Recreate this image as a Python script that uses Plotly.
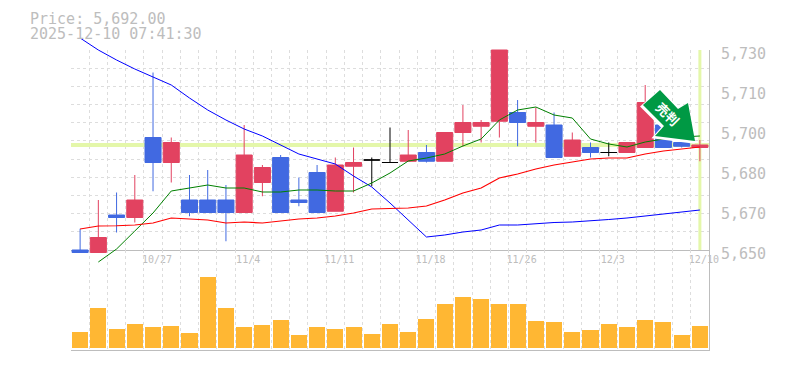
import plotly.graph_objects as go

price_now = 5692.0
stamp = "2025-12-10 07:41:30"
idx = list(range(35))
opens  = [5650,5649,5664,5663,5695,5685,5670,5670,5670,5665,5677,5687,5670,5681,5665.5,5683.5,5686,5685,5685.5,5689,5685.5,5697,5699.5,5701.5,5705,5699.5,5700,5687.5,5691,5689,5689,5691,5700,5693,5691]
closes = [5649,5655,5663,5670,5685,5693,5665,5665,5665,5688,5683,5665,5669,5665,5684,5685,5686,5685,5688,5685.5,5697,5701,5701,5730,5701,5701,5687,5694,5689,5689,5693,5709,5691,5691.5,5692]
highs  = [5658.5,5670,5673,5680,5721,5695,5680,5682,5676,5700,5684,5688,5679,5684,5687,5691,5687,5699,5698,5692,5697,5708,5702,5730,5710,5707,5705,5697,5693,5693,5693,5716,5700,5693,5694]
lows   = [5649,5649,5657,5661,5673.5,5677,5663.5,5665,5653.5,5665,5671.5,5665,5667.5,5665,5665.5,5673,5675.5,5685,5685.5,5685,5685.5,5691.5,5693,5695,5691.5,5693,5687,5687.5,5687,5687.5,5689,5691,5691,5691,5685.5]
ma_blue = [5734.8,5730,5726,5722.4,5719.2,5716,5710.8,5706,5702,5698.4,5695.6,5692,5688.4,5686.4,5684.4,5679.6,5675.2,5668.8,5662,5655.2,5656,5657.2,5658,5660,5660,5660.6,5661,5661.2,5661.6,5662.2,5662.8,5663.6,5664.4,5665.2,5666]
ma_red = [5658.4,5659.6,5659.7,5660,5660.8,5662.8,5662.4,5662,5660.8,5661.2,5660.8,5661.6,5662.4,5662.8,5663.6,5664.8,5666.4,5666.6,5666.8,5667.6,5670,5672.8,5674.8,5678.8,5680.4,5682.4,5684,5685.2,5686.4,5686.8,5686.8,5688.4,5689.6,5690.4,5691.2]
ma_green = [None,5645.2,5650.4,5657.6,5664.8,5673.6,5674.8,5676,5674.8,5674.8,5673.2,5673.2,5674,5674,5673.6,5673.6,5676.8,5680.8,5685.6,5686.8,5688.4,5691.6,5694.4,5702,5706,5707.2,5704,5702.8,5694.4,5692.4,5691.2,5693.2,5694.4,5695.2,5695.6]
volumes = [16,40,19,24,21,22,15,71,40,21,23,28,13,21,19,21,14,24,16,29,44,51,49,44,44,27,26,16,18,24,21,28,26,13,22]
x_tick_pos = [4,9,14,19,24,29,34]
x_tick_text = ["10/27","11/4","11/11","11/18","11/26","12/3","12/10"]
y_tick_pos = [5650,5666,5682,5698,5714,5730]
y_tick_text = ["5,650","5,670","5,680","5,700","5,710","5,730"]

GRAY = "#bdbdbd"
GRID = "#dddddd"
CLEAR = "rgba(0,0,0,0)"
L, R, T, B = 71, 709, 30, 350
W, H = R - L, B - T
px = lambda x: (x - L) / W
py = lambda y: (B - y) / H
MONO = "DejaVu Sans Mono"

up = [i for i in idx if closes[i] > opens[i]]
down = [i for i in idx if closes[i] < opens[i]]
flat = [i for i in idx if closes[i] == opens[i]]

fig = go.Figure()
# last-price cross hair on the visible grid axes
fig.add_trace(go.Scatter(x=[-0.5, 34.5], y=[price_now, price_now], mode="lines", line=dict(color="#e4f7aa", width=4), xaxis="x", yaxis="y", hoverinfo="skip"))
fig.add_trace(go.Scatter(x=[34, 34], y=[5650, 5730], mode="lines", line=dict(color="#e4f7aa", width=3), xaxis="x", yaxis="y", hoverinfo="skip"))
# volume
fig.add_trace(go.Bar(x=idx, y=volumes, width=0.88, marker=dict(color="#ffb733", line=dict(width=0)), xaxis="x2", yaxis="y2", hoverinfo="skip"))
# moving averages, behind the candles
for vals, col, wd in [(ma_blue, "#0000ff", 1), (ma_green, "#008000", 1), (ma_red, "#ff0000", 1.2)]:
    fig.add_trace(go.Scatter(x=idx, y=vals, mode="lines", line=dict(color=col, width=wd), xaxis="x3", yaxis="y3", hoverinfo="skip"))

def candles(sel, col):
    return go.Candlestick(
        x=sel,
        open=[opens[i] for i in sel], high=[highs[i] for i in sel],
        low=[lows[i] for i in sel], close=[closes[i] for i in sel],
        increasing=dict(line=dict(color=col, width=1), fillcolor=col),
        decreasing=dict(line=dict(color=col, width=1), fillcolor=col),
        whiskerwidth=0, xaxis="x3", yaxis="y3", hoverinfo="skip",
    )

fig.add_trace(candles(up, "#e24260"))
fig.add_trace(candles(down, "#4169e1"))
fig.add_trace(candles(flat, "#000000"))

# arrow badge outline, in pixels of the page
arrow = [(660, 90), (678, 109), (688, 103), (695, 141), (655, 136), (664, 126), (643, 105)]
def path(pts, dx=0, dy=0):
    return "M " + " L ".join(f"{px(x + dx):.5f},{py(y + dy):.5f}" for x, y in pts) + " Z"

fig.update_layout(
    width=785, height=370, showlegend=False, paper_bgcolor="white", plot_bgcolor=CLEAR,
    margin=dict(l=L, r=785 - R, t=T, b=370 - B, pad=0, autoexpand=False),
    boxgap=0.12, boxgroupgap=0, bargap=0,
    xaxis=dict(domain=[0, 1], range=[-0.5, 34.5], anchor="y", tickmode="array", tickvals=x_tick_pos, ticktext=x_tick_text,
               tickfont=dict(family=MONO, size=10, color=GRAY), ticklabelshift=4, ticks="", showgrid=False, zeroline=False,
               showline=True, linecolor=GRAY, linewidth=1,
               minor=dict(showgrid=True, tick0=-0.5, dtick=1, gridcolor=GRID, griddash="3px,3px", gridwidth=1, ticks="")),
    yaxis=dict(domain=[py(250), py(50)], range=[5650, 5730], anchor="x", side="right", tickmode="array", tickvals=y_tick_pos, ticktext=y_tick_text,
               tickfont=dict(family=MONO, size=15, color=GRAY), ticklabelshift=4, ticklabelstandoff=8, ticks="", showgrid=False, zeroline=False,
               showline=True, linecolor=GRAY, linewidth=1,
               minor=dict(showgrid=True, tick0=5650, dtick=80 / 11, gridcolor=GRID, griddash="3px,3px", gridwidth=1, ticks="")),
    xaxis2=dict(domain=[0, 1], range=[-0.5, 34.5], anchor="y2", showticklabels=False, ticks="", showgrid=False, zeroline=False,
                showline=True, linecolor=GRAY, linewidth=1,
                minor=dict(showgrid=True, tick0=-0.5, dtick=1, gridcolor=GRID, griddash="3px,3px", gridwidth=1, ticks="")),
    yaxis2=dict(domain=[0, py(250)], range=[-2, 98], anchor="x2", side="right", showticklabels=False, ticks="", showgrid=False, zeroline=False,
                showline=True, linecolor=GRAY, linewidth=1),
    xaxis3=dict(domain=[0, 1], range=[-0.5, 34.5], anchor="y3", visible=False, rangeslider=dict(visible=False)),
    yaxis3=dict(domain=[py(265), py(35)], range=[5644, 5736], anchor="x3", visible=False),
    shapes=[
        dict(type="path", xref="paper", yref="paper", path=path(arrow, -1.5, 1.5), fillcolor="white", line=dict(color="white", width=2), layer="above"),
        dict(type="path", xref="paper", yref="paper", path=path(arrow), fillcolor="#009944", line=dict(width=0), layer="above"),
    ],
    annotations=[
        dict(text=f"Price: {price_now:,.2f}", xref="paper", yref="paper", x=px(29), y=py(18.5), xanchor="left", yanchor="middle", showarrow=False, borderpad=0, font=dict(family=MONO, size=15, color=GRAY)),
        dict(text=stamp, xref="paper", yref="paper", x=px(29), y=py(33.5), xanchor="left", yanchor="middle", showarrow=False, borderpad=0, font=dict(family=MONO, size=15, color=GRAY)),
        dict(text="<b>売判</b>", xref="paper", yref="paper", x=px(667.5), y=py(113.5), xanchor="center", yanchor="middle", showarrow=False, textangle=45, font=dict(family="Noto Sans CJK JP", size=13, color="white")),
    ],
)
fig.write_html("out.html", config={"displayModeBar": False}, post_script="document.body.style.margin='0';")
